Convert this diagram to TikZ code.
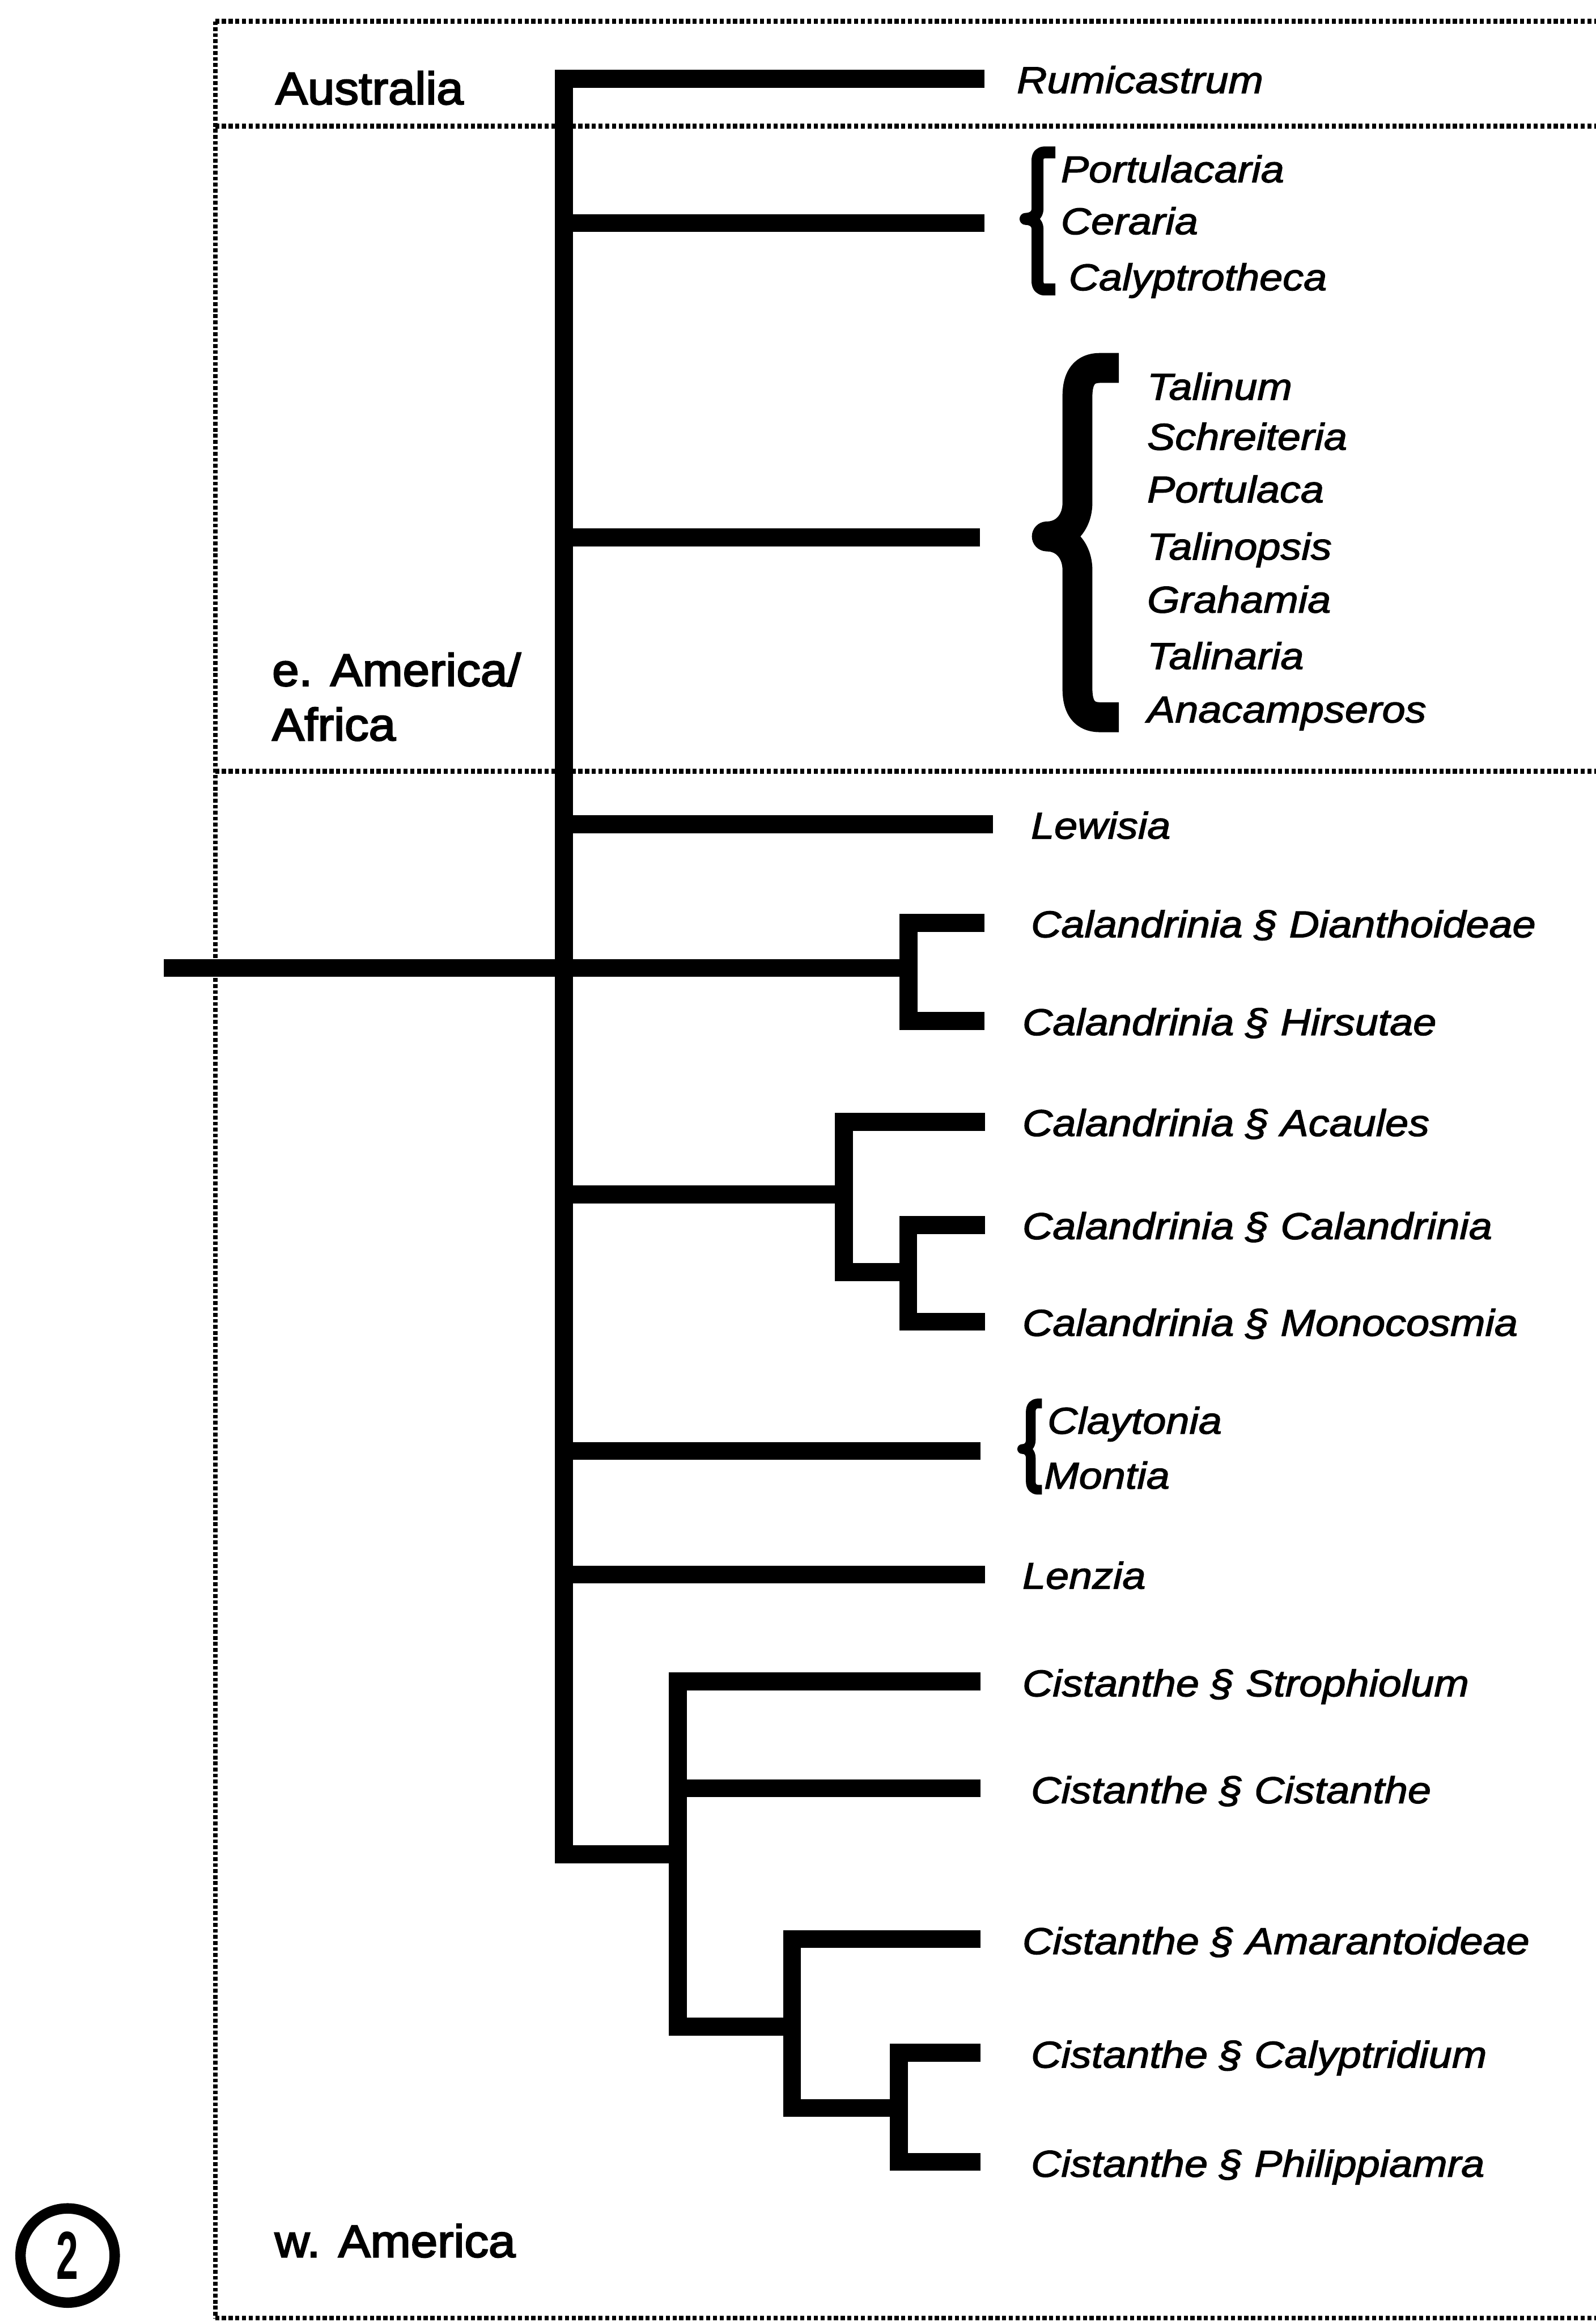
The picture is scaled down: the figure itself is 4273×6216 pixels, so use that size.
\documentclass[tikz,border=0pt]{standalone}
\usepackage{fontspec}
\newfontfamily\spfont[FakeStretch=1.12,FakeBold=2]{Liberation Sans}
\newfontfamily\regfont[FakeStretch=1.06,FakeBold=3]{Liberation Sans}
\newfontfamily\numfont[FakeStretch=0.58]{Liberation Sans}
\begin{document}
\begin{tikzpicture}[x=0.01cm,y=-0.01cm,
  br/.style={line width=0.48cm, line cap=rect},
  sp/.style={anchor=base west, inner sep=0, font=\spfont\itshape\fontsize{28.45}{34}\selectfont},
  reg/.style={anchor=base west, inner sep=0, align=left, font=\regfont\fontsize{34.7}{41.5}\selectfont},
  zone/.style={line width=0.13cm, dash pattern=on 0.11cm off 0.07cm},
  zonev/.style={line width=0.12cm, dash pattern=on 0.1cm off 0.06cm},
  bracepath/.style={line cap=butt, line join=round}
]
\useasboundingbox (0,0) rectangle (4273,6216);

% ---------- zone boundaries ----------
\coordinate (zl1) at (576,57);   \coordinate (zr1) at (4273,57);
\coordinate (zl2) at (576,338);  \coordinate (zr2) at (4273,338);
\coordinate (zl3) at (576,2065); \coordinate (zr3) at (4273,2065);
\coordinate (zl4) at (576,6205); \coordinate (zr4) at (4273,6205);
\draw[zone] (zl1) -- (zr1);
\draw[zone] (zl2) -- (zr2);
\draw[zone] (zl3) -- (zr3);
\draw[zone] (zl4) -- (zr4);
\draw[zonev] (zl1) -- (zl4);

% ---------- region labels ----------
\node[reg] (aus) at (737,279) {Australia};
\node[reg] (eam) at (728,1982) {e. America/\\Africa};
\node[reg] (wam) at (735,6042) {w. America};

% ---------- figure number ----------
\node[circle, draw, line width=0.28cm, minimum size=2.52cm, inner sep=0,
      font=\numfont\bfseries\fontsize{51.8}{60}\selectfont] (fignum) at (181,6038) {2};

% ---------- tree coordinates ----------
\coordinate (top) at (1510,211);
\coordinate (bot) at (1510,4964);
\coordinate (s2) at (1510,597);
\coordinate (s3) at (1510,1439);
\coordinate (s4) at (1510,2207);
\coordinate (s6) at (1510,3197);
\coordinate (s7) at (1510,3884);
\coordinate (s8) at (1510,4215);

\coordinate (t1) at (2612,211);
\coordinate (t2) at (2612,597);
\coordinate (t3) at (2600,1439);
\coordinate (t4) at (2635,2207);

\coordinate (rootL) at (462,2591);
\coordinate (c1) at (2433,2591);
\coordinate (c1a) at (2433,2471);
\coordinate (c1b) at (2433,2733);
\coordinate (t5a) at (2612,2471);
\coordinate (t5b) at (2612,2733);

\coordinate (a1) at (2260,3197);
\coordinate (a1a) at (2260,3003);
\coordinate (a1b) at (2260,3405);
\coordinate (a2) at (2432,3405);
\coordinate (a2a) at (2432,3279);
\coordinate (a2b) at (2432,3538);
\coordinate (t6a) at (2613,3003);
\coordinate (t6b) at (2613,3279);
\coordinate (t6c) at (2613,3538);

\coordinate (t7) at (2601,3884);
\coordinate (t8) at (2613,4215);

\coordinate (k1) at (1815,4964);
\coordinate (k1a) at (1815,4501);
\coordinate (k1b) at (1815,4787);
\coordinate (k1c) at (1815,5425);
\coordinate (k2) at (2121,5425);
\coordinate (k2a) at (2121,5191);
\coordinate (k2b) at (2121,5643);
\coordinate (k3) at (2407,5643);
\coordinate (k3a) at (2407,5495);
\coordinate (k3b) at (2407,5787);
\coordinate (t9a) at (2601,4501);
\coordinate (t9b) at (2601,4787);
\coordinate (t9c) at (2601,5191);
\coordinate (t9d) at (2601,5495);
\coordinate (t9e) at (2601,5787);

% ---------- tree ----------
\draw[br] (top) -- (bot);
\draw[br] (top) -- (t1);
\draw[br] (s2) -- (t2);
\draw[br] (s3) -- (t3);
\draw[br] (s4) -- (t4);

\draw[br] (rootL) -- (c1);
\draw[br] (c1a) -- (c1b);
\draw[br] (c1a) -- (t5a);
\draw[br] (c1b) -- (t5b);

\draw[br] (s6) -- (a1);
\draw[br] (a1a) -- (a1b);
\draw[br] (a1a) -- (t6a);
\draw[br] (a1b) -- (a2);
\draw[br] (a2a) -- (a2b);
\draw[br] (a2a) -- (t6b);
\draw[br] (a2b) -- (t6c);

\draw[br] (s7) -- (t7);
\draw[br] (s8) -- (t8);

\draw[br] (bot) -- (k1);
\draw[br] (k1a) -- (k1c);
\draw[br] (k1a) -- (t9a);
\draw[br] (k1b) -- (t9b);
\draw[br] (k1c) -- (k2);
\draw[br] (k2a) -- (k2b);
\draw[br] (k2a) -- (t9c);
\draw[br] (k2b) -- (k3);
\draw[br] (k3a) -- (k3b);
\draw[br] (k3a) -- (t9d);
\draw[br] (k3b) -- (t9e);

% ---------- braces ----------
\draw[bracepath, line width=0.32cm]
  (2826,408) -- (2798,408) .. controls (2785,408) and (2778,415) .. (2778,430)
  -- (2778,560) .. controls (2778,575) and (2765,586) .. (2746,586)
  .. controls (2765,586) and (2778,597) .. (2778,612)
  -- (2778,752) .. controls (2778,767) and (2785,775) .. (2798,775) -- (2826,775);

\draw[bracepath, line width=0.8cm]
  (2996,985) -- (2945,985) .. controls (2905,985) and (2885,1010) .. (2885,1060)
  -- (2885,1345) .. controls (2885,1400) and (2850,1436) .. (2803,1436)
  .. controls (2850,1436) and (2885,1472) .. (2885,1527)
  -- (2885,1845) .. controls (2885,1895) and (2905,1920) .. (2945,1920) -- (2996,1920);

\draw[bracepath, line width=0.26cm]
  (2790,3757) -- (2780,3757) .. controls (2767,3757) and (2760,3765) .. (2760,3780)
  -- (2760,3855) .. controls (2760,3870) and (2750,3879) .. (2737,3879)
  .. controls (2750,3879) and (2760,3888) .. (2760,3903)
  -- (2760,3965) .. controls (2760,3980) and (2767,3988) .. (2780,3988) -- (2790,3988);

% ---------- taxon labels ----------
\node[sp] (rum) at (2722,249) {Rumicastrum};
\node[sp] (por) at (2840,488) {Portulacaria};
\node[sp] (cer) at (2840,627) {Ceraria};
\node[sp] (cal) at (2861,777) {Calyptrotheca};

\node[sp] (tal) at (3071,1070) {Talinum};
\node[sp] (sch) at (3071,1204) {Schreiteria};
\node[sp] (pca) at (3071,1345) {Portulaca};
\node[sp] (tps) at (3071,1498) {Talinopsis};
\node[sp] (gra) at (3071,1640) {Grahamia};
\node[sp] (tna) at (3071,1791) {Talinaria};
\node[sp] (ana) at (3071,1934) {Anacampseros};

\node[sp] (lew) at (2760,2245) {Lewisia};
\node[sp] (cdi) at (2760,2509) {Calandrinia \S{} Dianthoideae};
\node[sp] (chi) at (2737,2771) {Calandrinia \S{} Hirsutae};
\node[sp] (cac) at (2737,3041) {Calandrinia \S{} Acaules};
\node[sp] (cca) at (2737,3317) {Calandrinia \S{} Calandrinia};
\node[sp] (cmo) at (2737,3576) {Calandrinia \S{} Monocosmia};

\node[sp] (cla) at (2804,3838) {Claytonia};
\node[sp] (mon) at (2795,3985) {Montia};
\node[sp] (len) at (2737,4253) {Lenzia};

\node[sp] (cst) at (2737,4541) {Cistanthe \S{} Strophiolum};
\node[sp] (ccs) at (2760,4827) {Cistanthe \S{} Cistanthe};
\node[sp] (cam) at (2737,5231) {Cistanthe \S{} Amarantoideae};
\node[sp] (ccy) at (2760,5535) {Cistanthe \S{} Calyptridium};
\node[sp] (cph) at (2760,5827) {Cistanthe \S{} Philippiamra};
\end{tikzpicture}
\end{document}
